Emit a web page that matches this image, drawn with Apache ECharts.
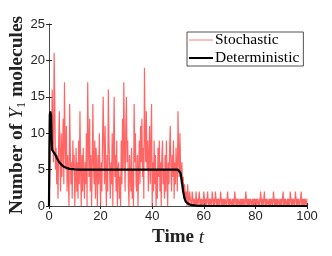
<!DOCTYPE html>
<html><head><meta charset="utf-8">
<script src="https://cdn.jsdelivr.net/npm/echarts@6/dist/echarts.min.js"></script>
<style>html,body{margin:0;padding:0;background:#fff}#c{width:332px;height:256px}</style>
</head><body><div id="c"></div>
<script>
// Stochastic trajectory, sampled every 0.25 time units from t=0
const stochDt = 0.25;
const stochEarly = [
0,3,8,12, 10,16,9,6, 21,14,5,8, 3,7,1,9, 13,6,2,10, 4,8,12,3, 17,9,5,11, 2,7,4,0, 14,8,3,6, 1,9,5,7,
0,4,8,2, 6,1,9,3, 13,5,0,7, 2,8,4,1, 6,3,10,0, 17,9,4,12, 2,7,0,5, 14,6,3,9, 1,8,5,0, 7,3,10,4,
0,6,2,9, 15,8,3,11, 4,0,7,2, 16,9,5,1, 6,3,10,0, 8,15,4,7, 2,9,0,5, 6,1,4,0, 9,3,12,5, 17,8,2,11,
15,6,9,3, 0,7,4,2, 8,1,5,0, 14,6,10,3, 2,7,0,5, 9,3,11,6, 12,4,8,1, 19,10,6,13, 5,9,2,7, 11,3,8,14,
0,6,2,9, 3,7,0,5, 1,8,4,9, 2,6,0,7, 9,3,5,1, 7,2,9,4, 0,6,3,8, 11,5,2,7, 4,9,1,6, 3,8,5,2,
13,7,4,10, 5,3,6,2, 4,1,3,2, 1,2,0,3, 1,0,2,1
];
const stochTail = [
1,0,2,1,0,1,1,0,2,0,1,0,1,2,0,1,0,1,1,0,
2,1,0,1,0,1,2,0,1,0,1,1,0,2,1,0,1,0,2,1,
0,1,0,1,1,0,2,1,0,1,0,1,0,1,1,0,1,2,0,1,
0,1,1,0,1,0,1,0,2,1,0,1,0,1,1,0,1,0,1,0,
1,0,1,1,0,2,1,0,1,0,1,0,1,1,0,1,0,1,0,1,
0,1,0,1,1,0,1,0,2,1,0,1,0,1,2,0,1,0,1,1,
0,1,0,1,0,1,1,0,2,1,0,1,0,1,0,1,1,0,1,0,
1,0,1,2,0,1,0,1,1,0,1,0,1,0,2,1,0,1,0,1,
1,0,2,1,0,1,0,1,1,0,1,2,0,1,0,1,0,1,1,0,1
];
// Deterministic solution (t, value)
const detT = [0,0.15,0.3,0.5,0.8,1.0,1.2,1.5,2,2.5,3,4,5,6,7,8,10,12,20,30,40,50,50.5,51,51.5,52,52.5,53,54,55,57,60,65,100];
const detV = [0,8,12.5,13,12.5,9.5,7.7,7.5,7.3,7.0,6.6,6.0,5.6,5.35,5.2,5.1,5.03,5,5,5,5,5,4.9,4.5,3.4,2.0,1.1,0.6,0.3,0.15,0.05,0.02,0,0];
const xTicks = [0,20,40,60,80,100];
const yTicks = [0,5,10,15,20,25];

const stochVals = stochEarly.concat(stochTail);
const stochData = stochVals.map((v,i)=>[i*stochDt, v]);
const detData = detT.map((t,i)=>[t, detV[i]]);

const axCol = '#262626';
const tickFont = '"Liberation Sans",Arial,sans-serif';
const chart = echarts.init(document.getElementById('c'), null, {renderer:'canvas'});
const serif = '"Liberation Serif","DejaVu Serif",serif';
chart.setOption({
  animation:false,
  grid:{left:49,right:25,top:24,bottom:50,containLabel:false,outerBoundsMode:'none'},
  legend:{
    left:187, top:32, orient:'vertical', itemGap:2, itemWidth:24, itemHeight:10,
    backgroundColor:'#fff', borderColor:axCol, borderWidth:0.8, padding:[0,4,0,2],
    textStyle:{fontFamily:serif, fontSize:15.5, lineHeight:15, color:'#000', padding:[0,0,0,-3]},
    data:[
      {name:'Stochastic', icon:'path://M0,0L0,0M0,10L0,10M0,4.4L24,4.4L24,5.6L0,5.6Z', itemStyle:{color:'#ff9494'}},
      {name:'Deterministic', icon:'path://M0,0L0,0M0,10L0,10M0,4L24,4L24,6L0,6Z', itemStyle:{color:'#000'}}
    ]
  },
  xAxis:[{
    type:'value', min:0, max:100, interval:20, position:'bottom',
    axisLine:{show:true, lineStyle:{color:axCol, width:0.6}},
    axisTick:{show:true, inside:true, length:3, lineStyle:{color:axCol}},
    axisLabel:{color:axCol, fontSize:13, fontFamily:tickFont, margin:4,
      formatter:v=>xTicks.includes(v)?String(v):''},
    splitLine:{show:false},
    name:'{b|Time }{i|t}', nameLocation:'middle', nameGap:22, nameMoveOverlap:false,
    nameTextStyle:{rich:{b:{fontFamily:serif,fontWeight:'bold',fontSize:19,color:'#222'},i:{fontFamily:serif,fontStyle:'italic',fontSize:19,color:'#222'}}}
  },{
    type:'value', min:0, max:100, interval:20, position:'top',
    axisLine:{show:true, lineStyle:{color:axCol, width:0.6}},
    axisTick:{show:true, inside:true, length:3, lineStyle:{color:axCol}},
    axisLabel:{show:false}, splitLine:{show:false}
  }],
  yAxis:[{
    type:'value', min:0, max:25, interval:5, position:'left',
    axisLine:{show:true, lineStyle:{color:axCol, width:0.6}},
    axisTick:{show:true, inside:true, length:3, lineStyle:{color:axCol}},
    axisLabel:{color:axCol, fontSize:13, fontFamily:tickFont, margin:4,
      formatter:v=>yTicks.includes(v)?String(v):''},
    splitLine:{show:false},
    name:'{b|Number of }{i|Y}{s|1}{b| molecules}', nameLocation:'middle', nameGap:21, nameRotate:90, nameMoveOverlap:false,
    nameTextStyle:{rich:{
      b:{fontFamily:serif,fontWeight:'bold',fontSize:19.5,color:'#222'},
      i:{fontFamily:serif,fontStyle:'italic',fontSize:19.5,color:'#222'},
      s:{fontFamily:serif,fontSize:12,color:'#222',padding:[10,0,0,0]}}}
  },{
    type:'value', min:0, max:25, interval:5, position:'right',
    axisLine:{show:true, lineStyle:{color:axCol, width:0.6}},
    axisTick:{show:true, inside:true, length:3, lineStyle:{color:axCol}},
    axisLabel:{show:false}, splitLine:{show:false}
  }],
  series:[{
    name:'Stochastic', type:'line', step:'end', data:stochData, symbol:'none', showSymbol:false,
    lineStyle:{color:'#ff4a4a', width:1.2, opacity:0.85}, itemStyle:{color:'#ff9494'}, z:2
  },{
    name:'Deterministic', type:'line', data:detData, symbol:'none', showSymbol:false,
    lineStyle:{color:'#000', width:2.2}, itemStyle:{color:'#000'}, z:3
  }]
});
</script></body></html>
